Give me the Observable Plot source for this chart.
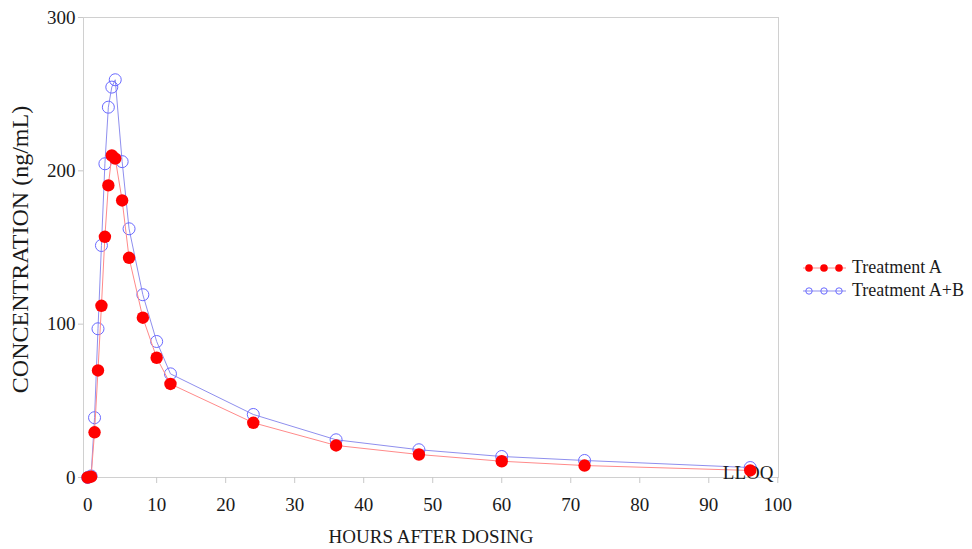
<!DOCTYPE html>
<html>
<head>
<meta charset="utf-8">
<script src="https://cdn.jsdelivr.net/npm/d3@7"></script>
<script src="https://cdn.jsdelivr.net/npm/@observablehq/plot@0.6"></script>
<style>
  html, body { margin: 0; padding: 0; background: #fff; }
  #wrap { position: relative; width: 972px; height: 549px; font-family: "Liberation Serif", "Times New Roman", serif; }
  #legend { position: absolute; left: 802px; top: 256px; font-size: 18px; color: #1a1a1a; }
  .row { display: flex; align-items: center; height: 23px; }
  .row svg { margin-right: 4px; }
</style>
</head>
<body>
<div id="wrap"><div id="legend"></div></div>
<script>
// ---- data ----
const hours = [0, 0.5, 1, 1.5, 2, 2.5, 3, 3.5, 4, 5, 6, 8, 10, 12, 24, 36, 48, 60, 72, 96];
const treatmentA  = [0, 0.5, 29.5, 69.8, 112, 157, 190.5, 210, 208, 180.7, 143.3, 104.2, 78.1, 61, 35.7, 20.9, 15, 10.6, 7.8, 4.6];
const treatmentAB = [0, 1, 39, 97, 151.3, 204.6, 241.5, 254.6, 259.4, 206, 162.2, 119.2, 88.7, 67.6, 41.1, 24.6, 18.1, 13.7, 11.1, 6.5];
const seriesNames = ["Treatment A", "Treatment A+B"];
const xTicks = [0, 10, 20, 30, 40, 50, 60, 70, 80, 90, 100];
const yTicks = [0, 100, 200, 300];
const xLabel = ["HOURS AFTER DOSING"];
const yLabel = ["CONCENTRATION (ng/mL)"];
const annotationText = ["LLOQ"];
const annotationX = [96];
const annotationY = [3.3];

const dataA  = hours.map((h, i) => ({hour: h, conc: treatmentA[i]}));
const dataAB = hours.map((h, i) => ({hour: h, conc: treatmentAB[i]}));
const notes = annotationText.map((t, i) => ({text: t, hour: annotationX[i], conc: annotationY[i]}));

const font = "Liberation Serif";
const red = "#ff0000", redLine = "#ff8a8a";
const blue = "#6a6aff", blueLine = "#8f8fee";

const chart = Plot.plot({
  width: 972,
  height: 549,
  marginLeft: 83,
  marginRight: 194,
  marginTop: 17,
  marginBottom: 72,
  style: {fontFamily: font, fontSize: "19px", background: "#fff", color: "#1a1a1a"},
  x: {domain: [-0.6, 100.1]},
  y: {domain: [0, 300]},
  marks: [
    Plot.frame({stroke: "#d0d0d0"}),
    Plot.axisX({ticks: xTicks, tickSize: 6, text: null, stroke: "#c8c8c8", label: null}),
    Plot.axisX({ticks: xTicks, tickSize: 0, tickPadding: 20, fontSize: 19, fill: "#1a1a1a", label: null}),
    Plot.axisY({ticks: yTicks, tickSize: 5, text: null, stroke: "#c8c8c8", label: null}),
    Plot.axisY({ticks: yTicks, tickSize: 0, tickPadding: 8, fontSize: 19, fill: "#1a1a1a", label: null}),
    Plot.text(xLabel, {frameAnchor: "bottom", dy: 59, fontSize: 19, fill: "#1a1a1a", lineAnchor: "middle", textAnchor: "middle"}),
    Plot.text(yLabel, {frameAnchor: "left", dx: -63, dy: 2, rotate: -90, fontSize: 24, fill: "#1a1a1a", lineAnchor: "middle", textAnchor: "middle"}),
    // Treatment A+B
    Plot.line(dataAB, {x: "hour", y: "conc", stroke: blueLine, strokeWidth: 1}),
    Plot.dot(dataAB, {x: "hour", y: "conc", r: 6, stroke: blue, strokeWidth: 1, fill: "none"}),
    // Treatment A
    Plot.line(dataA, {x: "hour", y: "conc", stroke: redLine, strokeWidth: 1}),
    Plot.text(notes, {x: "hour", y: "conc", text: "text", fontSize: 19, fill: "#1a1a1a", textAnchor: "middle", dx: -2}),
    Plot.dot(dataA, {x: "hour", y: "conc", r: 6.2, fill: red, stroke: "none"})
  ]
});
document.getElementById("wrap").appendChild(chart);

// legend
const legend = document.getElementById("legend");
const swatch = (i) => {
  const ns = "http://www.w3.org/2000/svg";
  const s = document.createElementNS(ns, "svg");
  s.setAttribute("width", 46); s.setAttribute("height", 14);
  const ln = document.createElementNS(ns, "line");
  ln.setAttribute("x1", 1); ln.setAttribute("x2", 44); ln.setAttribute("y1", 7); ln.setAttribute("y2", 7);
  ln.setAttribute("stroke", i === 0 ? redLine : blueLine);
  s.appendChild(ln);
  [7, 22, 37].forEach(cx => {
    const c = document.createElementNS(ns, "circle");
    c.setAttribute("cx", cx); c.setAttribute("cy", 7);
    if (i === 0) { c.setAttribute("r", 3.8); c.setAttribute("fill", red); }
    else { c.setAttribute("r", 3.2); c.setAttribute("fill", "none"); c.setAttribute("stroke", blue); }
    s.appendChild(c);
  });
  return s;
};
seriesNames.forEach((name, i) => {
  const row = document.createElement("div");
  row.className = "row";
  row.appendChild(swatch(i));
  const t = document.createElement("span");
  t.textContent = name;
  row.appendChild(t);
  legend.appendChild(row);
});
</script>
</body>
</html>
